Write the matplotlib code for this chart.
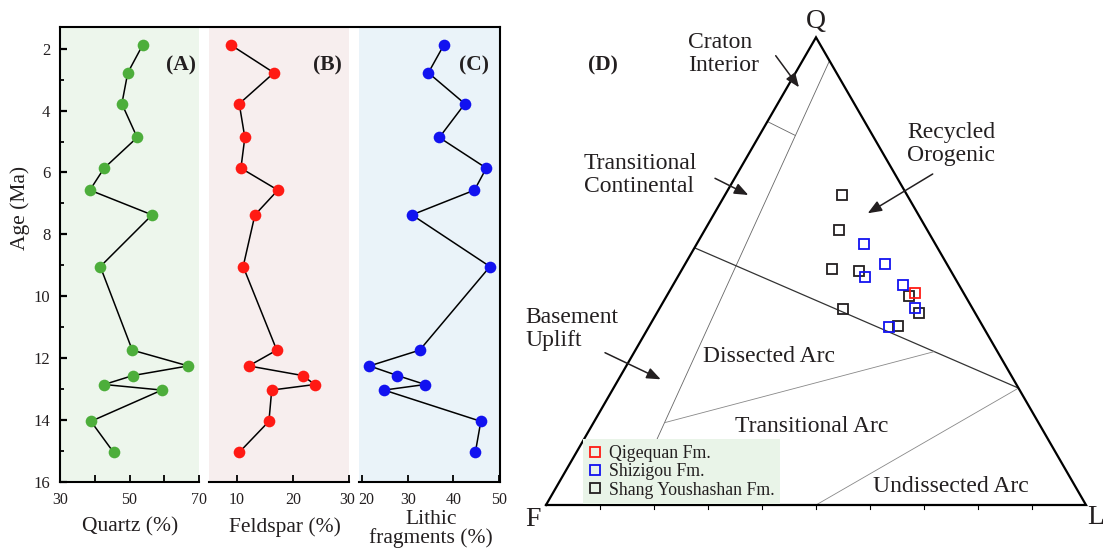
import numpy as np
import matplotlib
matplotlib.use("Agg")
import matplotlib.pyplot as plt
from matplotlib.lines import Line2D
from matplotlib.transforms import ScaledTranslation

plt.rcParams["font.family"] = ["Liberation Serif", "DejaVu Serif"]
plt.rcParams["axes.linewidth"] = 1.5

# ---------------- detrital composition vs. age ----------------
age = [1.88, 2.78, 3.78, 4.87, 5.86, 6.57, 7.37, 9.04,
       11.74, 12.25, 12.56, 12.85, 13.03, 14.04, 15.04]
quartz = [53.8, 49.5, 47.8, 52.2, 42.7, 38.6, 56.5, 41.6,
          50.8, 66.9, 51.0, 42.7, 59.3, 38.9, 45.4]
feldspar = [8.9, 16.6, 10.4, 11.4, 10.7, 17.3, 13.2, 11.1,
            17.1, 12.1, 21.7, 23.9, 16.2, 15.7, 10.4]
lithic = [37.9, 34.5, 42.5, 36.9, 47.2, 44.6, 30.9, 48.0,
          32.6, 21.6, 27.7, 33.8, 24.8, 46.0, 44.8]

age_ticks = [2, 4, 6, 8, 10, 12, 14, 16]
quartz_ticks = [30, 50, 70]
feldspar_ticks = [10, 20, 30]
lithic_ticks = [20, 30, 40, 50]

# ---------------- QFL ternary data (percent) ----------------
qigequan_Q = [45.4]
qigequan_F = [8.9]
qigequan_L = [45.7]

shizigou_Q = [55.8, 48.8, 51.5, 47.0, 42.2, 38.0]
shizigou_F = [13.2, 16.5, 11.4, 10.3, 10.5, 17.4]
shizigou_L = [31.0, 34.7, 37.1, 42.7, 47.3, 44.6]

youshashan_Q = [66.2, 58.7, 50.5, 50.1, 42.0, 44.7, 41.0, 38.3]
youshashan_F = [12.0, 16.3, 21.7, 17.0, 24.0, 10.4, 10.5, 15.7]
youshashan_L = [21.8, 25.0, 27.8, 32.9, 34.0, 44.9, 48.5, 46.0]

# Dickinson provenance field boundaries, (Q, F, L) end points
continental_limit = [(95, 0, 5), (0, 85, 15)]
craton_limit = [(82, 18, 0), (79, 14.3, 6.7)]
recycled_limit = [(55, 45, 0), (25, 0, 75)]
dissected_limit = [(17.6, 69.25, 13.15), (32.8, 11.7, 55.5)]
undissected_limit = [(0, 50, 50), (25, 0, 75)]

W, H = 1103, 551
fig = plt.figure(figsize=(W / 100, H / 100), dpi=100)
TXT = "#231f20"


def fbox(x0, y0, x1, y1):
    """figure-fraction rectangle from pixel corners (top-left origin)"""
    return [x0 / W, 1 - y1 / H, (x1 - x0) / W, (y1 - y0) / H]


def ftext(x, y, s, **kw):
    kw.setdefault("color", TXT)
    fig.text(x / W, 1 - y / H, s, **kw)


def nudge(label, dx_px):
    label.set_transform(label.get_transform()
                        + ScaledTranslation(dx_px / 100, 0, fig.dpi_scale_trans))


panels = [
    dict(x=quartz, lim=(30, 70), ticks=quartz_ticks, minor=[40, 60],
         bg="#edf6ec", color="#4dae3b", box=(60, 27, 199, 482),
         label="Quartz (%)", tag="(A)", tagx=181),
    dict(x=feldspar, lim=(5, 30), ticks=feldspar_ticks, minor=[],
         bg="#f7eeee", color="#ff1a14", box=(209, 27, 349, 482),
         label="Feldspar (%)", tag="(B)", tagx=327),
    dict(x=lithic, lim=(19.3, 50.2), ticks=lithic_ticks, minor=[],
         bg="#eaf3f9", color="#1212f0", box=(359, 27, 500, 482),
         label="Lithic\nfragments (%)", tag="(C)", tagx=474),
]

axes = []
for i, p in enumerate(panels):
    ax = fig.add_axes(fbox(*p["box"]))
    axes.append(ax)
    ax.set_facecolor(p["bg"])
    ax.plot(p["x"], age, "-", color="black", lw=1.1, zorder=2)
    ax.plot(p["x"], age, "o", color=p["color"], ms=8.4, mec="none", zorder=3)
    ax.set_xlim(*p["lim"])
    ax.set_ylim(16, 1.3)
    ax.set_xticks(p["ticks"])
    ax.set_xticks(p["minor"], minor=True)
    ax.tick_params(axis="x", which="both", direction="in", labelsize=11.5,
                   pad=7, length=5, width=1.3, colors="black", labelcolor=TXT)
    ax.spines["top"].set_visible(False)
    ax.spines["right"].set_visible(i == 2)
    ax.spines["left"].set_visible(i == 0)
    if i == 0:
        ax.set_yticks(age_ticks)
        ax.set_yticks(np.arange(3, 16, 2), minor=True)
        ax.tick_params(axis="y", which="major", direction="in", length=5,
                       width=1.6, labelsize=12, pad=7, labelcolor=TXT)
        ax.tick_params(axis="y", which="minor", direction="in", length=3,
                       width=1.3)
    else:
        ax.set_yticks([])
    ftext(p["tagx"], 65, p["tag"], fontsize=15.5, fontweight="bold",
          ha="center", va="center")

# keep the neighbouring "30" and "20" labels apart
nudge(axes[1].get_xticklabels()[-1], -2)
nudge(axes[2].get_xticklabels()[0], 4)

ftext(130, 527, panels[0]["label"], fontsize=15.5, ha="center", va="center")
ftext(285, 527, panels[1]["label"], fontsize=15.5, ha="center", va="center")
ftext(431, 529, panels[2]["label"], fontsize=15.5, ha="center", va="center",
      linespacing=0.95)
ftext(20, 208, "Age (Ma)", fontsize=15.5, rotation=90, ha="center", va="center")

# frame line across the top of the three columns
fig.add_artist(Line2D([60 / W, 500 / W], [1 - 27 / H] * 2,
                      transform=fig.transFigure, color="black", lw=1.5))

# ---------------- ternary diagram ----------------
tax = fig.add_axes(fbox(546, 505 - 540 * np.sqrt(3) / 2, 1086, 505))
tax.set_xlim(0, 1)
tax.set_ylim(0, np.sqrt(3) / 2)
tax.axis("off")


def tern(q, f, l):
    q, f, l = (np.asarray(v, dtype=float) for v in (q, f, l))
    tot = q + f + l
    return (l + q / 2) / tot, (q / tot) * np.sqrt(3) / 2


def boundary(pts, **kw):
    xs, ys = tern(*zip(*pts))
    tax.plot(xs, ys, solid_capstyle="butt", **kw)


boundary(continental_limit, color="#666666", lw=0.6)
boundary(craton_limit, color="#666666", lw=0.6)
boundary(recycled_limit, color="#333333", lw=0.9)
boundary(dissected_limit, color="#888888", lw=0.6)
boundary(undissected_limit, color="#888888", lw=0.6)

# outer triangle
tx, ty = tern([0, 0, 100, 0], [100, 0, 0, 100], [0, 100, 0, 0])
tax.plot(tx, ty, color="black", lw=1.6, clip_on=False, solid_joinstyle="miter")
for k in range(1, 10):
    tax.plot([k / 10] * 2, [0, -0.0065], color="black", lw=0.8, clip_on=False)

mk = dict(marker="s", ms=7.2, mfc="none", mew=1.3, ls="none", clip_on=False)
h3, = tax.plot(*tern(youshashan_Q, youshashan_F, youshashan_L), mec="#231f20",
               label="Shang Youshashan Fm.", **mk)
h2, = tax.plot(*tern(shizigou_Q, shizigou_F, shizigou_L), mec="#1212f0",
               label="Shizigou Fm.", **mk)
h1, = tax.plot(*tern(qigequan_Q, qigequan_F, qigequan_L), mec="#ff1a14",
               label="Qigequan Fm.", **mk)

leg = tax.legend(handles=[h1, h2, h3], loc="lower left",
                 bbox_to_anchor=(583 / W, 47 / H), bbox_transform=fig.transFigure,
                 borderaxespad=0, frameon=True, fancybox=False, fontsize=12.8,
                 handlelength=0.7, handletextpad=0.45, labelspacing=0.08,
                 borderpad=0.3, markerscale=1.0)
leg.get_frame().set_facecolor("#e9f4e8")
leg.get_frame().set_edgecolor("none")
leg.get_frame().set_alpha(1)
for t in leg.get_texts():
    t.set_color(TXT)

ftext(816, 21, "Q", fontsize=20, ha="center", va="center")
ftext(533, 519, "F", fontsize=20, ha="center", va="center")
ftext(1096, 518, "L", fontsize=20, ha="center", va="center")
ftext(603, 65, "(D)", fontsize=15.5, fontweight="bold", ha="center", va="center")

lab = dict(fontsize=17, va="center", linespacing=1.08)
ftext(688, 54, "Craton\nInterior", ha="left", **lab)
ftext(584, 175, "Transitional\nContinental", ha="left", **lab)
ftext(951, 144, "Recycled\nOrogenic", ha="center", **lab)
ftext(525, 329, "Basement\nUplift", ha="left", **lab)
ftext(703, 357, "Dissected Arc", ha="left", **lab)
ftext(735, 427, "Transitional Arc", ha="left", **lab)
ftext(873, 487, "Undissected Arc", ha="left", **lab)

arrows = [((775.7, 55.7), (799, 87.3)), ((715, 178.3), (748.3, 195)),
          ((932.7, 174), (867.7, 213.3)), ((605, 352.7), (660.7, 379.3))]
for (x0, y0), (x1, y1) in arrows:
    tax.annotate("", xy=(x1, H - y1), xytext=(x0, H - y0),
                 xycoords="figure pixels", textcoords="figure pixels",
                 arrowprops=dict(arrowstyle="-|>,head_length=0.7,head_width=0.28",
                                 color=TXT, lw=1.1, shrinkA=0, shrinkB=0,
                                 mutation_scale=12))

fig.savefig("out.png", dpi=100)
